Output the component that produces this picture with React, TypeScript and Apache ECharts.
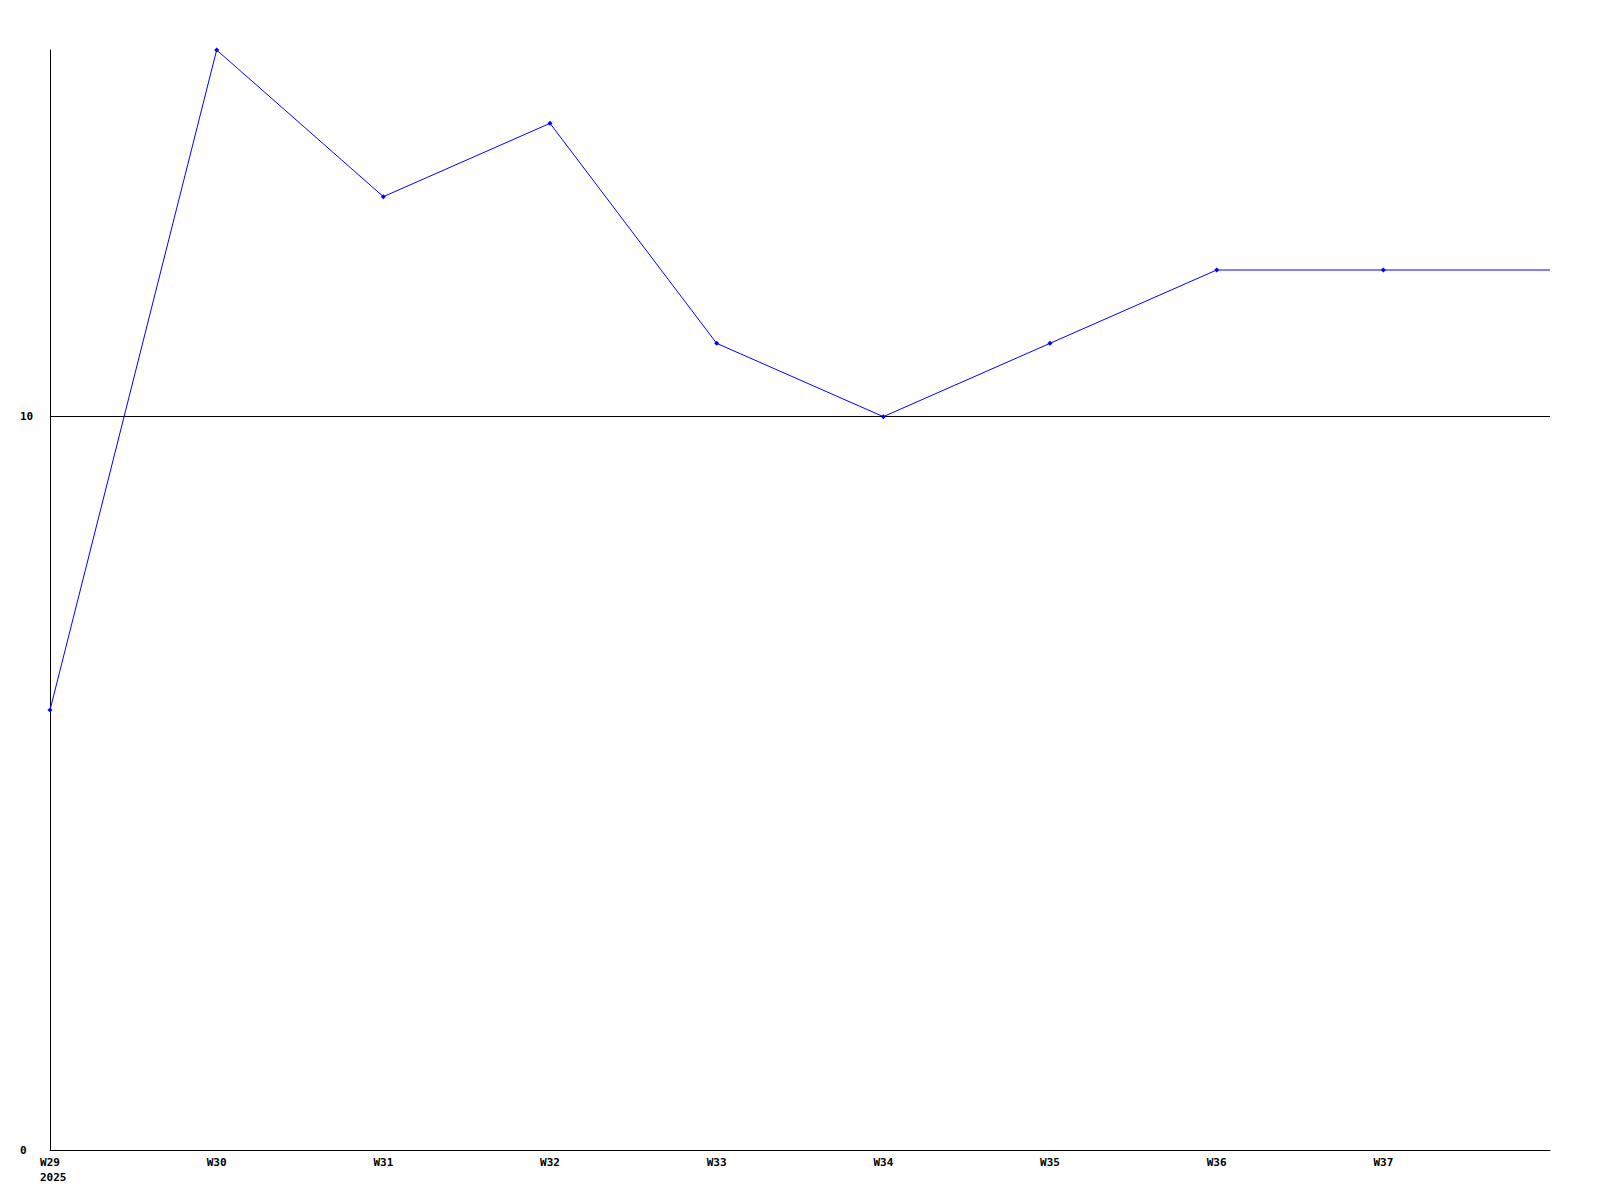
import React, { useEffect, useRef } from "react";
import * as echarts from "echarts";

const weeks = ["W29", "W30", "W31", "W32", "W33", "W34", "W35", "W36", "W37", "W38"];
const yearLabel = "2025";
const values = [6, 15, 13, 14, 11, 10, 11, 12, 12, 12];
const yTicks = [0, 10];
const referenceLine = 10;

export default function App() {
  const ref = useRef<HTMLDivElement>(null);
  useEffect(() => {
    if (!ref.current) return;
    const chart = echarts.init(ref.current, null, { renderer: "svg" });
    const font = { fontFamily: "DejaVu Sans Mono", fontSize: 11, fontWeight: "bold" as const, color: "#000" };
    chart.setOption({
      animation: false,
      backgroundColor: "#fff",
      grid: { left: 50, right: 50, top: 50, bottom: 50, containLabel: false },
      xAxis: {
        type: "category",
        data: weeks,
        boundaryGap: false,
        axisLine: { show: true, onZero: false, lineStyle: { color: "#000", width: 1 } },
        axisTick: { show: false },
        splitLine: { show: false },
        axisLabel: {
          ...font,
          margin: 5,
          lineHeight: 15,
          interval: 0,
          formatter: (v: string, i: number) =>
            i === weeks.length - 1 ? "" : i === 0 ? `${v}\n{y|${yearLabel}}` : v,
          rich: {
            y: { ...font, width: 20, align: "left", lineHeight: 15 },
          },
        },
      },
      yAxis: {
        type: "value",
        min: 0,
        max: 15,
        interval: 10,
        axisLine: { show: true, lineStyle: { color: "#000", width: 1 } },
        axisTick: { show: false },
        splitLine: { show: false },
        axisLabel: {
          ...font,
          align: "left",
          margin: 30,
          showMaxLabel: false,
          formatter: (v: number) => (yTicks.includes(v) ? String(v) : ""),
        },
      },
      series: [
        {
          type: "line",
          data: values.map((v, i) => (i === values.length - 1 ? { value: v, symbol: "none" } : v)),
          symbol: "diamond",
          symbolSize: 5,
          showAllSymbol: true,
          lineStyle: { color: "#0000ff", width: 1 },
          itemStyle: { color: "#0000ff" },
          markLine: {
            silent: true,
            symbol: "none",
            label: { show: false },
            lineStyle: { color: "#000", width: 1, type: "solid" },
            data: [{ yAxis: referenceLine }],
            z: 1,
          },
        },
      ],
    });
    return () => chart.dispose();
  }, []);
  return <div ref={ref} style={{ position: "absolute", left: 0, top: 0, width: 1600, height: 1200 }} />;
}
